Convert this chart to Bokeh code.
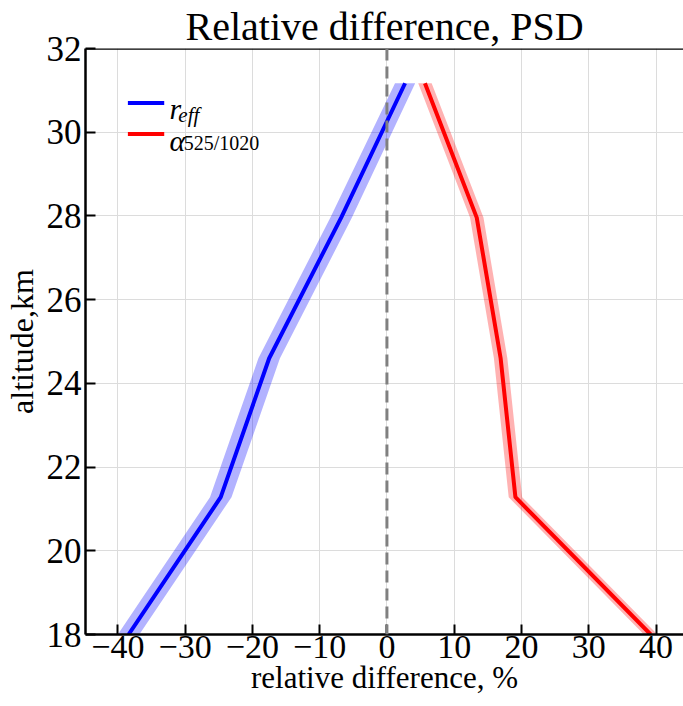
from bokeh.plotting import figure
from bokeh.models import Range1d, FixedTicker, Span, Label
from bokeh.embed import file_html
from bokeh.resources import INLINE

# ---- data ----
altitude = [18.0, 21.28, 24.6, 27.96, 31.17]
reff_diff = [-38.4, -24.7, -17.5, -6.8, 2.7]
reff_err = [1.6, 1.6, 1.6, 1.6, 1.5]
alpha_diff = [39.2, 19.1, 16.9, 13.35, 5.65]
alpha_err = [1.0, 1.0, 1.0, 1.0, 1.0]
x_ticks = [-40, -30, -20, -10, 0, 10, 20, 30, 40]
y_ticks = [18, 20, 22, 24, 26, 28, 30, 32]

FONT = "Liberation Serif"

reff_lo = [v - e for v, e in zip(reff_diff, reff_err)]
reff_hi = [v + e for v, e in zip(reff_diff, reff_err)]
alpha_lo = [v - e for v, e in zip(alpha_diff, alpha_err)]
alpha_hi = [v + e for v, e in zip(alpha_diff, alpha_err)]

p = figure(width=683, height=706, output_backend="svg", toolbar_location=None,
           x_range=Range1d(-44.8, 44.08), y_range=Range1d(18, 32),
           min_border_left=84, min_border_right=0, min_border_top=48,
           min_border_bottom=72)

p.title.text = "Relative difference, PSD"
p.title.text_font = FONT
p.title.text_font_size = "40px"
p.title.text_font_style = "normal"
p.title.align = "center"
p.title.standoff = 0
p.title.text_color = "black"

p.outline_line_color = None
p.background_fill_color = "white"
p.border_fill_color = "white"

# grid
p.xgrid.ticker = FixedTicker(ticks=x_ticks)
p.ygrid.ticker = FixedTicker(ticks=y_ticks)
for g in (p.xgrid, p.ygrid):
    g.grid_line_color = "#dcdcdc"
    g.grid_line_width = 1

# axes
for ax, ticks in ((p.xaxis[0], x_ticks), (p.yaxis[0], y_ticks)):
    ax.ticker = FixedTicker(ticks=ticks)
    ax.axis_line_color = "black"
    ax.axis_line_width = 2.5
    ax.major_tick_line_color = "black"
    ax.major_tick_line_width = 2
    ax.major_tick_in = 10
    ax.major_tick_out = 0
    ax.minor_tick_line_color = None
    ax.major_label_text_font = FONT
    ax.major_label_text_font_style = "normal"
    ax.major_label_text_color = "black"
    ax.axis_label_text_font = FONT
    ax.axis_label_text_font_style = "normal"
    ax.axis_label_text_color = "black"

p.xaxis.major_label_text_font_size = "34px"
p.yaxis.major_label_text_font_size = "35px"
p.xaxis.axis_label_text_font_size = "31px"
p.yaxis.axis_label_text_font_size = "32px"
p.xaxis.axis_label = "relative difference, %"
p.yaxis.axis_label = "altitude,km"
p.xaxis.major_label_standoff = 1
p.xaxis.axis_label_standoff = -1
p.yaxis.major_label_standoff = 4
p.yaxis.axis_label_standoff = 4
p.xaxis.major_label_overrides = {t: ("\u2212" + str(abs(t)) if t < 0 else str(t)) for t in x_ticks}

# top spine
p.add_layout(Span(location=32, dimension="width", line_color="black", line_width=2.5))

# zero line
p.add_layout(Span(location=0, dimension="height", line_color="#808080",
                  line_width=3, line_dash="12 6"))

# bands and lines
p.harea(y=altitude, x1=reff_lo, x2=reff_hi, fill_color="blue", fill_alpha=0.3)
p.harea(y=altitude, x1=alpha_lo, x2=alpha_hi, fill_color="red", fill_alpha=0.3)
p.line(reff_diff, altitude, line_color="blue", line_width=4)
p.line(alpha_diff, altitude, line_color="red", line_width=4)

# legend (manual, with subscripts)
p.segment(x0=-38.5, y0=30.70, x1=-33.1, y1=30.70, line_color="blue", line_width=4)
p.segment(x0=-38.5, y0=29.96, x1=-33.1, y1=29.96, line_color="red", line_width=4)
p.add_layout(Label(x=-32.3, y=30.57, text="r", text_font=FONT, text_font_size="30px",
                   text_font_style="italic", text_baseline="alphabetic", text_color="black"))
p.add_layout(Label(x=-31.0, y=30.42, text="eff", text_font=FONT, text_font_size="21px",
                   text_font_style="italic", text_baseline="alphabetic", text_color="black"))
p.add_layout(Label(x=-32.3, y=29.80, text="\u03b1", text_font=FONT, text_font_size="30px",
                   text_font_style="italic", text_baseline="alphabetic", text_color="black"))
p.add_layout(Label(x=-30.2, y=29.74, text="525/1020", text_font=FONT, text_font_size="20px",
                   text_baseline="alphabetic", text_color="black"))

open("out.html", "w").write(file_html(p, INLINE))
